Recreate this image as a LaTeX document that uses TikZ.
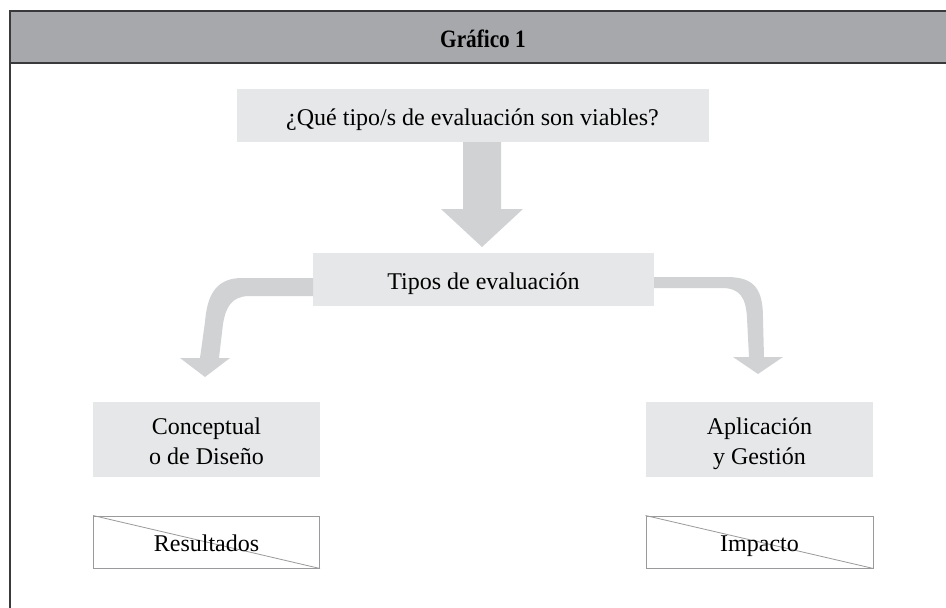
\documentclass[tikz,border=0pt]{standalone}
\usepackage{fontspec}
\setmainfont{Liberation Serif}
\definecolor{hdr}{HTML}{A7A8AB}
\definecolor{boxfill}{HTML}{E6E7E8}
\definecolor{arrowc}{HTML}{D1D2D4}
\definecolor{framec}{HTML}{3A3A3C}
\definecolor{outl}{HTML}{9A9A9C}
\newcommand{\mystr}{\rule[-5.4pt]{0pt}{30pt}}
\begin{document}
\begin{tikzpicture}[x=1pt,y=-1pt,
  graybox/.style={fill=boxfill,draw=none,inner sep=0pt,font=\fontsize{24}{30}\selectfont,align=center},
  outbox/.style={draw=outl,line width=1pt,fill=white,inner sep=0pt},
  lbl/.style={font=\fontsize{24}{30}\selectfont,inner sep=0pt}]
\useasboundingbox (0,0) rectangle (946,608);
% header and frame
\fill[hdr] (10,11) rectangle (946,63);
\draw[framec,line width=2pt] (946,11) -- (10,11) -- (10,608);
\draw[framec,line width=2.2pt] (10,63) -- (946,63);
\node[font=\fontsize{25}{30}\selectfont\bfseries,inner sep=0pt] (title) at (483,38) {\scalebox{0.85}[1]{\mystr Gráfico 1}};
% boxes
\node[graybox,minimum width=472pt,minimum height=53pt] (q) at (472.5,115.5) {\mystr ¿Qué tipo/s de evaluación son viables?};
\node[graybox,minimum width=341pt,minimum height=53pt] (tipos) at (483.5,279.5) {\mystr Tipos de evaluación};
\node[graybox,minimum width=227pt,minimum height=75pt] (conc) at (206.5,439.5) {\mystr Conceptual\\\mystr o de Diseño};
\node[graybox,minimum width=227pt,minimum height=75pt] (apl) at (759.5,439.5) {\mystr Aplicación\\\mystr y Gestión};
\node[outbox,minimum width=226pt,minimum height=52pt] (res) at (206.5,542) {};
\draw[outl,line width=0.8pt] (res.north west) -- (res.south east);
\node[lbl] (reslbl) at (res.center) {\mystr Resultados};
\node[outbox,minimum width=227pt,minimum height=52pt] (imp) at (759.5,542) {};
\draw[outl,line width=0.8pt] (imp.north west) -- (imp.south east);
\node[lbl] (implbl) at (imp.center) {\mystr Impacto};
% main arrow
\fill[arrowc] (463,142) -- (501,142) -- (501,209) -- (523,209) -- (482,247) -- (441,209) -- (463,209) -- cycle;
% left curved arrow
\fill[arrowc] (313,278) -- (240,278) .. controls (214,279) and (207,298) .. (205,322) -- (200,358)
  -- (180,358) -- (205,377) -- (230,358) -- (219,358) -- (223,324)
  .. controls (226,306) and (232,297) .. (248,296) -- (313,296) -- cycle;
% right curved arrow
\fill[arrowc] (654,277) -- (727,277) .. controls (755,277) and (763,290) .. (763,318) -- (764,357)
  -- (783,357) -- (758,374) -- (733,357) -- (749,357) -- (747,318)
  .. controls (746,298) and (740,288) .. (722,288) -- (654,288) -- cycle;
\end{tikzpicture}
\end{document}
